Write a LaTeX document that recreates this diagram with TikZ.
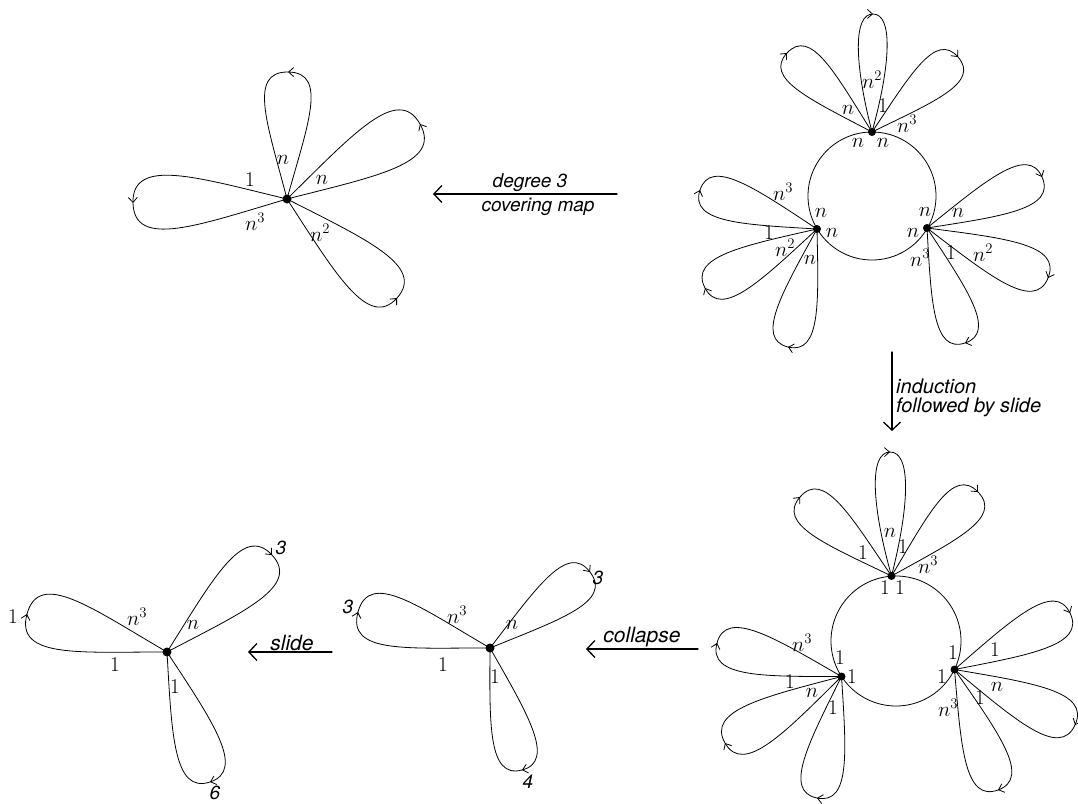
\RequirePackage{fix-cm}
\documentclass[tikz,border=0pt]{standalone}
\usepackage{fontspec}
\newfontfamily\hel{TeX Gyre Heros}
\usetikzlibrary{arrows.meta}
\usetikzlibrary{calc}
\usetikzlibrary{decorations.markings}

% one teardrop loop at a vertex: [tip width]{style}{vertex}{tip}
\newcommand{\petal}[4][0.28]{%
  \draw[#2] (#3) .. controls ($(#3)!0.6!15:(#4)$) and ($(#4)!#1!-90:(#3)$) .. (#4)
    .. controls ($(#4)!#1!90:(#3)$) and ($(#3)!0.6!-15:(#4)$) .. (#3);}

\begin{document}
\begin{tikzpicture}[x=1pt, y=-1pt, line cap=round, line join=round,
    petal/.style={line width=0.8pt, postaction={decorate},
      decoration={markings, mark=at position 0.5 with {\arrow{Straight Barb[length=5pt,width=9pt]}}}},
    petal ccw/.style={line width=0.8pt, postaction={decorate},
      decoration={markings, mark=at position 0.5 with {\arrowreversed{Straight Barb[length=5pt,width=9pt]}}}},
    lab/.style={inner sep=0pt, font=\fontsize{21}{24}\selectfont},
    num/.style={inner sep=0pt, font=\hel\itshape\fontsize{19}{22}\selectfont},
    capt/.style={inner sep=0pt, font=\hel\itshape\fontsize{19}{22}\selectfont},
    map/.style={line width=1.3pt, -{Straight Barb[length=8pt,width=17pt]}}]

  \useasboundingbox (0,0) rectangle (1078,803);

  % top left: rose with four petals
  \coordinate (A) at (287,199);
  \petal[0.32]{petal ccw}{A}{288,72}
  \petal[0.30]{petal ccw}{A}{420,124}
  \petal[0.29]{petal ccw}{A}{397,298}
  \petal[0.30]{petal ccw}{A}{133,203}
  \fill (A) circle (4.5);
  \foreach \x/\y/\t [count=\i] in {283/160/n, 322/180/n, 250/180/1, 255/222/n^3, 320/233/n^2}
    \node[lab] (tl\i) at (\x,\y) {$\t$};

  % top right: circle with three vertices
  \coordinate (O1) at (872,196);
  \draw[line width=0.8pt] (O1) circle (64);
  \coordinate (T1) at (872,132);
  \coordinate (L1) at (817,229);
  \coordinate (R1) at (927,228);
  \petal[0.30]{petal}{T1}{787,53}
  \petal[0.17]{petal}{T1}{873,14}
  \petal[0.30]{petal}{T1}{958,57}
  \petal{petal}{L1}{700,190}
  \petal{petal}{L1}{705,288}
  \petal{petal}{L1}{788,347}
  \petal{petal}{R1}{1042,177}
  \petal{petal}{R1}{1048,278}
  \petal{petal}{R1}{965,343}
  \foreach \v in {T1,L1,R1} \fill (\v) circle (4);
  \foreach \x/\y/\t [count=\i] in {848/110/n, 872/80/n^2, 883/106/1, 907/124/n^3, 858/143/n, 883/143/n,
      783/192/n^3, 769/233/1, 785/248/n^2, 810/260/n, 821/213/n, 832/233/n,
      925/212/n, 958/213/n, 913/233/n, 920/258/n^3, 951/253/1, 983/253/n^2}
    \node[lab] (tr\i) at (\x,\y) {$\t$};

  % bottom right: same circle after induction and slide
  \coordinate (O2) at (896,641);
  \draw[line width=0.8pt] (O2) circle (65);
  \coordinate (T2) at (891.5,576);
  \coordinate (L2) at (841.5,676.5);
  \coordinate (R2) at (954.5,669.5);
  \petal[0.30]{petal}{T2}{800,497}
  \petal[0.17]{petal}{T2}{890,452}
  \petal[0.30]{petal}{T2}{978,492}
  \petal{petal}{L2}{717,643}
  \petal{petal}{L2}{725,743}
  \petal{petal}{L2}{817,798}
  \petal{petal}{R2}{1070,613}
  \petal{petal}{R2}{1075,725}
  \petal{petal}{R2}{998,790}
  \foreach \v in {T2,L2,R2} \fill (\v) circle (4);
  \foreach \x/\y/\t [count=\i] in {863/553/1, 890/533/n, 903/547/1, 928/565/n^3, 885/588/1, 900/588/1,
      802/643/n^3, 790/682/1, 812/693/n, 833/708/1, 840/658/1, 852/677/1,
      953/653/1, 995/650/1, 942/677/1, 997/687/n, 948/708/n^3, 980/698/1}
    \node[lab] (br\i) at (\x,\y) {$\t$};

  % bottom middle: after collapse
  \coordinate (M) at (490,648);
  \petal[0.32]{petal}{M}{358,612}
  \petal[0.30]{petal}{M}{590,572}
  \petal{petal}{M}{522,770}
  \fill (M) circle (4.5);
  \foreach \x/\y/\t [count=\i] in {457/615/n^3, 512/625/n, 443/665/1, 495/677/1}
    \node[lab] (bm\i) at (\x,\y) {$\t$};
  \node[num] (bmA) at (348,607) {3};
  \node[num] (bmB) at (598,578) {3};
  \node[num] (bmC) at (528,782) {4};

  % bottom left: after slide
  \coordinate (B) at (167,652);
  \petal[0.32]{petal}{B}{27,614}
  \petal[0.30]{petal}{B}{272,555}
  \petal{petal}{B}{210,782}
  \fill (B) circle (4.5);
  \foreach \x/\y/\t [count=\i] in {137/617/n^3, 193/625/n, 115/665/1, 175/687/1, 13/617/1}
    \node[lab] (bl\i) at (\x,\y) {$\t$};
  \node[num] (blA) at (281,548) {3};
  \node[num] (blB) at (215,793) {6};

  % maps between the pictures
  \coordinate (cvS) at (617,194);
  \coordinate (cvE) at (433,194);
  \draw[map] (cvS) -- (cvE);
  \node[capt] (cv1) at (530,183) {degree 3};
  \node[capt] (cv2) at (538,207) {covering map};

  \coordinate (inS) at (892,352);
  \coordinate (inE) at (892,431);
  \draw[map] (inS) -- (inE);
  \node[capt, anchor=west, font=\hel\itshape\fontsize{20}{23}\selectfont] (in1) at (896,386) {induction};
  \node[capt, anchor=west, font=\hel\itshape\fontsize{20}{23}\selectfont] (in2) at (896,407) {followed by slide};

  \coordinate (coS) at (698,649);
  \coordinate (coE) at (586,649);
  \draw[map] (coS) -- (coE);
  \node[capt, font=\hel\itshape\fontsize{21}{24}\selectfont] (co) at (642,637) {collapse};

  \coordinate (slS) at (332,652);
  \coordinate (slE) at (248,652);
  \draw[map] (slS) -- (slE);
  \node[capt, font=\hel\itshape\fontsize{21}{24}\selectfont] (sl) at (292,643) {slide};

\end{tikzpicture}
\end{document}
